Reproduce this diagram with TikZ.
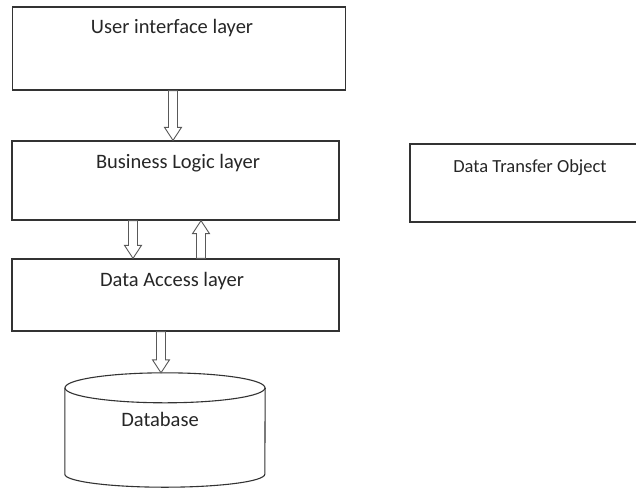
\documentclass[tikz,border=0pt]{standalone}
\usepackage{fontspec}
\setmainfont{Carlito}
\usetikzlibrary{calc}

\tikzset{
  layerbox/.style={draw=black!80, line width=1.3pt, rectangle, inner sep=0pt},
  lbl/.style={font=\fontsize{20.5}{22}\selectfont, text=black!85, inner sep=0pt},
  smalllbl/.style={font=\fontsize{18.5}{20}\selectfont, text=black!85, inner sep=0pt},
  hollowarr/.style={draw=black!65, line width=0.9pt, fill=white, line join=miter},
  dbline/.style={draw=black!80, line width=1.1pt},
}

% hollow block arrow: #1 start, #2 tip, #3 offset of the head base from the tip
\newcommand\hollowarrow[3]{%
  \draw[hollowarr] let \p1=#1, \p2=#2 in
    ({\x1-4.5pt},\y1) -- ({\x1-4.5pt},{\y2#3}) -- ({\x1-8.5pt},{\y2#3}) --
    (\x1,\y2) -- ({\x1+8.5pt},{\y2#3}) -- ({\x1+4.5pt},{\y2#3}) --
    ({\x1+4.5pt},\y1) -- cycle;}

\begin{document}
\begin{tikzpicture}[x=1pt, y=-1pt]
  \useasboundingbox (0,0) rectangle (636,488);

  % layer boxes
  \node[layerbox, minimum width=333pt, minimum height=83pt] (ui) at (179,48.5) {};
  \node[layerbox, minimum width=327pt, minimum height=79pt] (bl) at (175.5,180.5) {};
  \node[layerbox, minimum width=327pt, minimum height=72pt] (da) at (175.5,295) {};
  \node[layerbox, minimum width=240pt, minimum height=78pt] (dto) at (530,183) {};

  % database cylinder
  \node[minimum width=200pt, minimum height=114pt, inner sep=0pt] (db) at (165,430) {};
  \draw[dbline] ([yshift=-15pt]db.north west) -- ([yshift=13pt]db.south west)
    arc[start angle=180, end angle=360, x radius=100pt, y radius=13pt]
    -- ([yshift=-15pt]db.north east);
  \draw[dbline, fill=white] ([yshift=-15pt]db.north) ellipse [x radius=100pt, y radius=15pt];

  % labels
  \node[lbl] (uit) at (172,28.5) {User interface layer};
  \node[lbl] (blt) at (178,163.5) {Business Logic layer};
  \node[lbl] (dat) at (172,281.5) {Data Access layer};
  \node[smalllbl] (dtot) at (530,167.5) {Data Transfer Object};
  \node[lbl] (dbt) at (160,419) {Database};

  % arrows between layers
  \hollowarrow{([xshift=-6pt]ui.south)}{([xshift=-2pt]bl.north)}{+13pt}
  \hollowarrow{([xshift=-42.5pt]bl.south)}{([xshift=-42.5pt]da.north)}{+13pt}
  \hollowarrow{([xshift=25.5pt]da.north)}{([xshift=25.5pt]bl.south)}{-13pt}
  \hollowarrow{([xshift=-14.5pt]da.south)}{([xshift=-4pt]db.north)}{+13pt}
\end{tikzpicture}
\end{document}
